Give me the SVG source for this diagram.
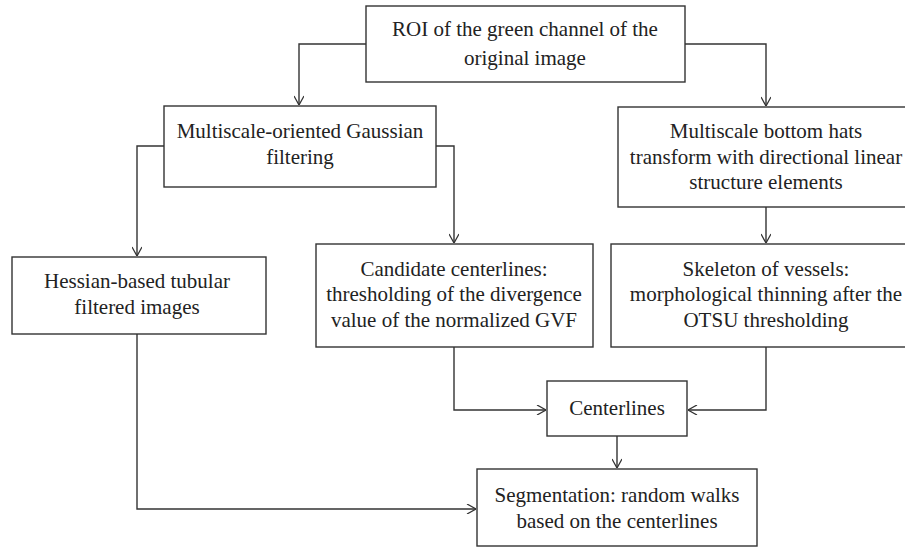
<svg xmlns="http://www.w3.org/2000/svg" width="905" height="548" viewBox="0 0 905 548">
<defs>
<marker id="arr" viewBox="0 0 10 10" refX="10" refY="5" markerWidth="10" markerHeight="10" markerUnits="userSpaceOnUse" orient="auto">
<path d="M1,0 L10,5 L1,10" fill="none" stroke="#333" stroke-width="1.3"/>
</marker>
<style>
.box{fill:#fff;stroke:#333;stroke-width:1.4}
.t{font-family:"Liberation Serif","Times New Roman",serif;font-size:21px;fill:#222;text-anchor:middle}
.c{fill:none;stroke:#333;stroke-width:1.4}
</style>
</defs>
<rect width="905" height="548" fill="#fff"/>
<g id="connectors">
<polyline class="c" points="366,44 299,44 299,105" marker-end="url(#arr)"/>
<polyline class="c" points="685,44 766,44 766,106" marker-end="url(#arr)"/>
<polyline class="c" points="164,146 137,146 137,256" marker-end="url(#arr)"/>
<polyline class="c" points="436,146 454,146 454,243" marker-end="url(#arr)"/>
<line class="c" x1="766" y1="207" x2="766" y2="243" marker-end="url(#arr)"/>
<polyline class="c" points="454,347 454,410 546,410" marker-end="url(#arr)"/>
<polyline class="c" points="766,347 766,410 688,410" marker-end="url(#arr)"/>
<line class="c" x1="617" y1="436" x2="617" y2="468" marker-end="url(#arr)"/>
<polyline class="c" points="137,334 137,509 476,509" marker-end="url(#arr)"/>
</g>
<g id="roi">
<rect class="box" x="366" y="6" width="319" height="76"/>
<text class="t" x="525" y="36">ROI of the green channel of the</text>
<text class="t" x="525" y="65">original image</text>
</g>
<g id="gaussian">
<rect class="box" x="164" y="106" width="272" height="81"/>
<text class="t" x="300" y="138">Multiscale-oriented Gaussian</text>
<text class="t" x="300" y="164">filtering</text>
</g>
<g id="bottomhats">
<rect class="box" x="618" y="107" width="300" height="100"/>
<text class="t" x="766" y="138">Multiscale bottom hats</text>
<text class="t" x="766" y="164">transform with directional linear</text>
<text class="t" x="766" y="189">structure elements</text>
</g>
<g id="hessian">
<rect class="box" x="12" y="257" width="254" height="77"/>
<text class="t" x="137" y="288">Hessian-based tubular</text>
<text class="t" x="137" y="314">filtered images</text>
</g>
<g id="candidate">
<rect class="box" x="316" y="244" width="277" height="103"/>
<text class="t" x="454" y="276">Candidate centerlines:</text>
<text class="t" x="454" y="301">thresholding of the divergence</text>
<text class="t" x="454" y="327">value of the normalized GVF</text>
</g>
<g id="skeleton">
<rect class="box" x="611" y="244" width="310" height="103"/>
<text class="t" x="766" y="276">Skeleton of vessels:</text>
<text class="t" x="766" y="301">morphological thinning after the</text>
<text class="t" x="766" y="327">OTSU thresholding</text>
</g>
<g id="centerlines">
<rect class="box" x="547" y="381" width="140" height="55"/>
<text class="t" x="617" y="415">Centerlines</text>
</g>
<g id="segmentation">
<rect class="box" x="477" y="469" width="280" height="77"/>
<text class="t" x="617" y="502">Segmentation: random walks</text>
<text class="t" x="617" y="528">based on the centerlines</text>
</g>
</svg>
